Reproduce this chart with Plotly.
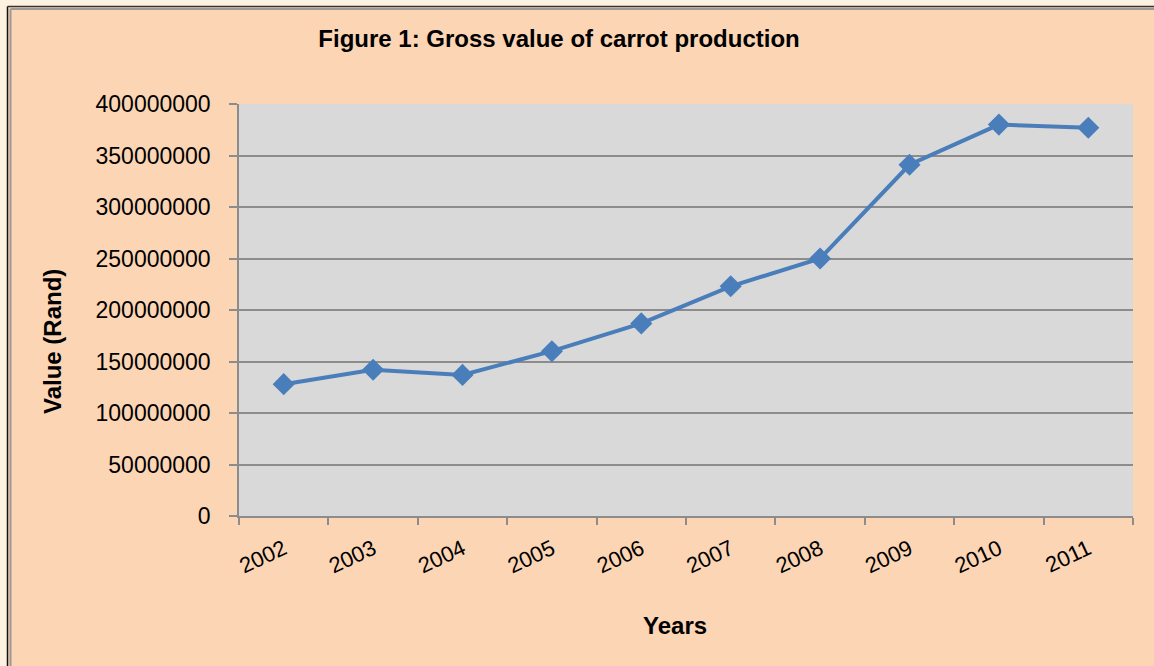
import plotly.graph_objects as go

years = ["2002", "2003", "2004", "2005", "2006", "2007", "2008", "2009", "2010", "2011"]
values = [128000000, 142000000, 137000000, 160000000, 187000000, 223000000, 250000000, 341000000, 380000000, 377000000]
y_ticks = [0, 50000000, 100000000, 150000000, 200000000, 250000000, 300000000, 350000000, 400000000]

W, H = 1154, 666
L, R, T, B = 239, 1133, 104, 516

def px(x):
    return (x - L) / (R - L)

def py(y):
    return (B - y) / (B - T)

FONT = "Liberation Sans, Arial, sans-serif"
PEACH = "#FCD5B5"
CREAM = "#FDF2E0"

fig = go.Figure()
fig.add_trace(go.Scatter(
    x=years, y=values, mode="lines+markers",
    line=dict(color="#4A7EBB", width=4),
    marker=dict(symbol="diamond", size=17, color="#4A7EBB"),
    showlegend=False,
))

fig.update_layout(
    width=W, height=H,
    margin=dict(l=L, r=W - R, t=T, b=H - B),
    paper_bgcolor=PEACH,
    plot_bgcolor="#D9D9D9",
    font=dict(family=FONT, size=23, color="#000000"),
    title=dict(text="<b>Figure 1: Gross value of carrot production</b>",
               x=559 / W, xanchor="center", y=1 - 39 / H, yanchor="middle",
               font=dict(family=FONT, size=24, color="#000000")),
    xaxis=dict(type="category", range=[-0.5, 9.5], tickson="boundaries",
               ticks="outside", ticklen=7, tickcolor="#8C8C8C", tickwidth=1.5,
               showgrid=False, showline=True, linecolor="#8C8C8C", linewidth=1.5,
               tickangle=-25, tickfont=dict(family=FONT, size=22), zeroline=False,
               ticklabelstandoff=10),
    yaxis=dict(range=[0, 400000000], tickvals=y_ticks, tickformat="d",
               ticks="outside", ticklen=8, tickcolor="#8C8C8C", tickwidth=1.5,
               showgrid=True, gridcolor="#8C8C8C", gridwidth=1.5,
               showline=True, linecolor="#8C8C8C", linewidth=1.5,
               tickfont=dict(family=FONT, size=23), zeroline=False,
               ticklabelstandoff=14),
    annotations=[
        dict(text="<b>Value (Rand)</b>", x=px(52), y=py(342), xref="paper", yref="paper",
             textangle=-90, showarrow=False, xanchor="center", yanchor="middle",
             font=dict(family=FONT, size=24)),
        dict(text="<b>Years</b>", x=px(675), y=py(625), xref="paper", yref="paper",
             showarrow=False, xanchor="center", yanchor="middle",
             font=dict(family=FONT, size=24)),
    ],
    shapes=[
        dict(type="rect", xref="paper", yref="paper", x0=px(0), x1=px(7), y0=py(H), y1=py(0),
             fillcolor=CREAM, line=dict(width=0), layer="above"),
        dict(type="rect", xref="paper", yref="paper", x0=px(0), x1=px(W), y0=py(6), y1=py(0),
             fillcolor=CREAM, line=dict(width=0), layer="above"),
        dict(type="line", xref="paper", yref="paper", x0=px(7.5), x1=px(7.5), y0=py(H), y1=py(6.5),
             line=dict(color="#111111", width=1.5), layer="above"),
        dict(type="line", xref="paper", yref="paper", x0=px(7.5), x1=px(W), y0=py(6.5), y1=py(6.5),
             line=dict(color="#333333", width=1.5), layer="above"),
        dict(type="line", xref="paper", yref="paper", x0=px(10.5), x1=px(10.5), y0=py(H), y1=py(9),
             line=dict(color="#9A9A9A", width=2), layer="above"),
        dict(type="line", xref="paper", yref="paper", x0=px(10.5), x1=px(W), y0=py(9), y1=py(9),
             line=dict(color="#9A9A9A", width=2), layer="above"),
    ],
)

fig.write_html("out.html", config={"displayModeBar": False},
               post_script="document.body.style.margin='0';document.body.style.background='#FDF2E0';")
